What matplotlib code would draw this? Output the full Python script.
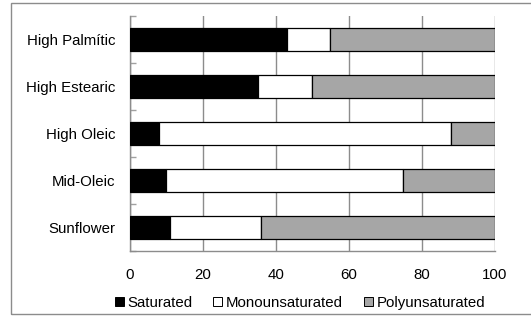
import matplotlib
matplotlib.use("Agg")
import matplotlib.pyplot as plt
from matplotlib.patches import Rectangle, Patch
import numpy as np

plt.rcParams['font.family'] = ['Liberation Sans', 'DejaVu Sans']

categories = ["High Palmític", "High Estearic", "High Oleic", "Mid-Oleic", "Sunflower"]
saturated = [43, 35, 8, 10, 11]
monounsaturated = [12, 15, 80, 65, 25]
polyunsaturated = [45, 50, 12, 25, 64]
series_names = ["Saturated", "Monounsaturated", "Polyunsaturated"]
series_colors = ["#000000", "#ffffff", "#a6a6a6"]
x_ticks = [0, 20, 40, 60, 80, 100]

fig = plt.figure(figsize=(5.31, 3.24), dpi=100)
ax = fig.add_axes([130 / 531, 1 - 251 / 324, 364.5 / 531, 235 / 324])

# outer chart frame
fig.patches.append(Rectangle((11 / 531, 1 - 313.5 / 324), 1.2, 310.5 / 324,
                             transform=fig.transFigure, fill=False,
                             edgecolor="#8c8c8c", linewidth=1.0, zorder=0))

y = np.arange(len(categories))
left = np.zeros(len(categories))
for vals, name, col in zip([saturated, monounsaturated, polyunsaturated],
                           series_names, series_colors):
    ax.barh(y, vals, left=left, height=0.5, color=col, edgecolor="black",
            linewidth=0.9, label=name, zorder=3)
    left = left + np.array(vals)

fs = 10.8
ax.set_xlim(0, 100)
ax.set_ylim(len(categories) - 0.5, -0.5)
ax.set_xticks(x_ticks)
ax.set_xticklabels([str(t) for t in x_ticks], fontsize=fs)
ax.set_yticks(y)
ax.set_yticklabels(categories, fontsize=fs)
ax.tick_params(axis='y', length=0, pad=10.5)
ax.tick_params(axis='x', length=0, pad=12)
ax.set_yticks(np.arange(-0.5, len(categories), 1.0), minor=True)
ax.tick_params(axis='y', which='minor', direction='in', length=4,
               color='#a0a0a0', width=1)
ax.grid(axis='x', color='#8c8c8c', linewidth=1.0, zorder=0)

for side in ['top', 'right']:
    ax.spines[side].set_visible(False)
for side in ['left', 'bottom']:
    ax.spines[side].set_color('#8c8c8c')
    ax.spines[side].set_linewidth(1.0)

handles = [Patch(facecolor=c, edgecolor='black', linewidth=0.7) for c in series_colors]
fig.legend(handles, series_names, loc='center', bbox_to_anchor=(0.565, 1 - 303 / 324),
           ncol=3, frameon=False, fontsize=fs, handlelength=0.6, handleheight=0.6,
           handletextpad=0.25, columnspacing=1.4, borderaxespad=0)

fig.savefig("out.png", dpi=100)
